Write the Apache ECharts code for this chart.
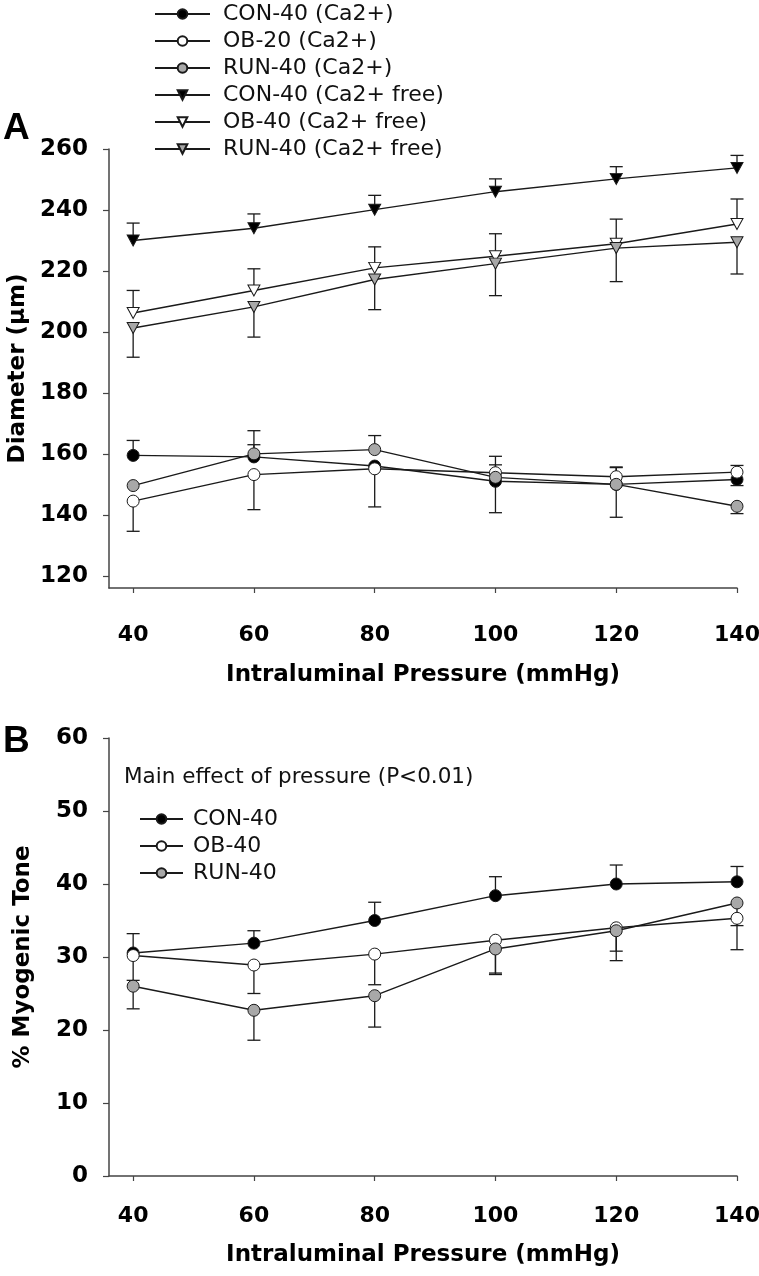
<!DOCTYPE html>
<html><head><meta charset="utf-8">
<script src="https://cdn.jsdelivr.net/npm/echarts@6/dist/echarts.min.js"></script>
<style>html,body{margin:0;padding:0;background:#fff}#c{width:759px;height:1276px}</style>
</head><body><div id="c"></div>
<script>
// ---------- data ----------
const pressures = [40, 60, 80, 100, 120, 140];
const xTicks = [40, 60, 80, 100, 120, 140];
const yTicksA = [120, 140, 160, 180, 200, 220, 240, 260];
const yTicksB = [0, 10, 20, 30, 40, 50, 60];

// Panel A: diameter (µm)
const conCa   = [159.5, 159.0, 156.0, 151.0, 150.0, 151.6];
const obCa    = [144.5, 153.2, 155.1, 153.8, 152.5, 154.0];
const runCa   = [149.6, 160.0, 161.4, 152.3, 150.0, 142.8];
const conFree = [230.0, 234.0, 240.1, 246.0, 250.2, 253.8];
const obFree  = [206.2, 213.6, 221.0, 224.8, 228.9, 235.4];
const runFree = [201.3, 208.2, 217.2, 222.4, 227.5, 229.4];
// error bar end values (null = not visible)
const conCaErr   = [164.4, 163.0, null, 140.7, 155.7, 149.6];
const obCaErr    = [134.6, 141.7, 142.6, 159.2, 155.5, 156.2];
const runCaErr   = [null, 167.6, 166.0, 156.4, 139.2, 140.4];
const conFreeErr = [235.7, 238.7, 244.8, 250.2, 254.2, 257.9];
const obFreeErr  = [213.6, 220.7, 227.9, 232.2, 237.0, 243.6];
const runFreeErr = [191.7, 198.3, 207.3, 211.9, 216.5, 219.0];

// Panel B: % myogenic tone
const conTone = [30.55, 31.9, 35.0, 38.4, 40.0, 40.3];
const obTone  = [30.2, 28.9, 30.4, 32.3, 34.0, 35.3];
const runTone = [26.0, 22.7, 24.7, 31.1, 33.6, 37.4];
const conToneErr = [33.2, 33.6, 37.5, 41.0, 42.6, 42.4];
const obToneErr  = [26.8, 25.0, 26.2, 27.8, 29.5, 31.0];
const runToneErr = [22.9, 18.6, 20.4, 27.6, 30.8, 34.3];

const namesA = ['CON-40 (Ca2+)', 'OB-20 (Ca2+)', 'RUN-40 (Ca2+)', 'CON-40 (Ca2+ free)', 'OB-40 (Ca2+ free)', 'RUN-40 (Ca2+ free)'];
const namesB = ['CON-40', 'OB-40', 'RUN-40'];

// ---------- styling ----------
const INK = '#1a1a1a';
const AX = '#444';
const GRAY = '#a8a8a8';
const yTickFont = {fontFamily: 'DejaVu Sans', fontWeight: 'bold', fontSize: 23, color: '#000'};
const xTickFont = {fontFamily: 'DejaVu Sans', fontWeight: 'bold', fontSize: 22, color: '#000'};
const titleFont = {fontFamily: 'DejaVu Sans', fontWeight: 'bold', fontSize: 23, color: '#000'};

function pts(vals) { return pressures.map((p, i) => [p, vals[i]]); }
function errPts(vals, ends) {
  const out = [];
  pressures.forEach((p, i) => { if (ends[i] != null) out.push([p, vals[i], ends[i]]); });
  return out;
}
function lineSeries(name, vals, fill, symbol, gi) {
  return {
    type: 'line', name, data: pts(vals), xAxisIndex: gi, yAxisIndex: gi,
    symbol: symbol === 'tri' ? 'triangle' : 'circle',
    symbolRotate: symbol === 'tri' ? 180 : 0,
    symbolSize: symbol === 'tri' ? [12, 11] : 12,
    showAllSymbol: true,
    lineStyle: {color: INK, width: 1.4},
    itemStyle: {color: fill, borderColor: INK, borderWidth: 1},
    emphasis: {disabled: true}, z: 3, animation: false
  };
}
function errSeries(vals, ends, gi) {
  return {
    type: 'custom', xAxisIndex: gi, yAxisIndex: gi, z: 2, animation: false,
    data: errPts(vals, ends), encode: {x: 0, y: [1, 2]},
    renderItem: function (params, api) {
      const x = api.value(0), m = api.value(1), e = api.value(2);
      const p0 = api.coord([x, m]), p1 = api.coord([x, e]);
      const hw = 6.5;
      return {type: 'group', children: [
        {type: 'line', shape: {x1: p0[0], y1: p0[1], x2: p1[0], y2: p1[1]}, style: {stroke: INK, lineWidth: 1.3}},
        {type: 'line', shape: {x1: p1[0] - hw, y1: p1[1], x2: p1[0] + hw, y2: p1[1]}, style: {stroke: INK, lineWidth: 1.3}}
      ]};
    }
  };
}
function xAxis(gi, margin, nameGap) {
  return {
    type: 'value', gridIndex: gi, min: 36, max: 140,
    name: 'Intraluminal Pressure (mmHg)', nameLocation: 'middle', nameGap, nameTextStyle: titleFont,
    axisLine: {show: true, lineStyle: {color: AX, width: 1.5}},
    axisTick: {show: true, length: 5, lineStyle: {color: AX, width: 1.2}, customValues: xTicks},
    axisLabel: Object.assign({margin, customValues: xTicks, hideOverlap: false}, xTickFont),
    splitLine: {show: false}
  };
}
function yAxis(gi, min, max, ticks, name) {
  return {
    type: 'value', gridIndex: gi, min, max,
    name, nameLocation: 'middle', nameGap: 74, nameTextStyle: titleFont,
    axisLine: {show: true, lineStyle: {color: AX, width: 1.5}},
    axisTick: {show: true, length: 6, lineStyle: {color: AX, width: 1.2}, customValues: ticks},
    axisLabel: Object.assign({margin: 21, customValues: ticks}, yTickFont),
    splitLine: {show: false}
  };
}

const series = [
  errSeries(conCa, conCaErr, 0), errSeries(obCa, obCaErr, 0), errSeries(runCa, runCaErr, 0),
  errSeries(conFree, conFreeErr, 0), errSeries(obFree, obFreeErr, 0), errSeries(runFree, runFreeErr, 0),
  lineSeries(namesA[0], conCa, '#000', 'circle', 0),
  lineSeries(namesA[1], obCa, '#fff', 'circle', 0),
  lineSeries(namesA[2], runCa, GRAY, 'circle', 0),
  lineSeries(namesA[3], conFree, '#000', 'tri', 0),
  lineSeries(namesA[4], obFree, '#fff', 'tri', 0),
  lineSeries(namesA[5], runFree, GRAY, 'tri', 0),
  errSeries(conTone, conToneErr, 1), errSeries(obTone, obToneErr, 1), errSeries(runTone, runToneErr, 1),
  lineSeries(namesB[0], conTone, '#000', 'circle', 1),
  lineSeries(namesB[1], obTone, '#fff', 'circle', 1),
  lineSeries(namesB[2], runTone, GRAY, 'circle', 1)
];

const legendText = {fontFamily: 'DejaVu Sans', fontSize: 22, color: '#111', lineHeight: 22};

const option = {
  backgroundColor: '#fff',
  animation: false,
  grid: [
    {left: 109, right: 22, top: 149, height: 439, outerBoundsMode: 'none', containLabel: false},
    {left: 109, right: 22, top: 738, height: 438, outerBoundsMode: 'none', containLabel: false}
  ],
  xAxis: [xAxis(0, 36, 76), xAxis(1, 29, 68)],
  yAxis: [yAxis(0, 116, 260, yTicksA, 'Diameter (µm)'), yAxis(1, 0, 60, yTicksB, '% Myogenic Tone')],
  legend: [
    {data: namesA, orient: 'vertical', left: 154, top: 3, padding: 0, itemWidth: 55, itemHeight: 12, itemGap: 5,
     textStyle: Object.assign({padding: [0, 0, 0, 8]}, legendText), selectedMode: false},
    {data: namesB, orient: 'vertical', left: 139, top: 808, padding: 0, itemWidth: 43, itemHeight: 12, itemGap: 5,
     textStyle: Object.assign({padding: [0, 0, 0, 5]}, legendText), selectedMode: false}
  ],
  graphic: [
    {type: 'text', left: 3, top: 110, style: {text: 'A', font: 'bold 37px "Liberation Sans", Arial', fill: '#000'}},
    {type: 'text', left: 3, top: 723, style: {text: 'B', font: 'bold 37px "Liberation Sans", Arial', fill: '#000'}},
    {type: 'text', left: 124, top: 766, style: {text: 'Main effect of pressure (P<0.01)', font: '21.5px "DejaVu Sans"', fill: '#111'}}
  ],
  series
};
const chart = echarts.init(document.getElementById('c'), null, {renderer: 'canvas'});
chart.setOption(option);
</script>
</body></html>
